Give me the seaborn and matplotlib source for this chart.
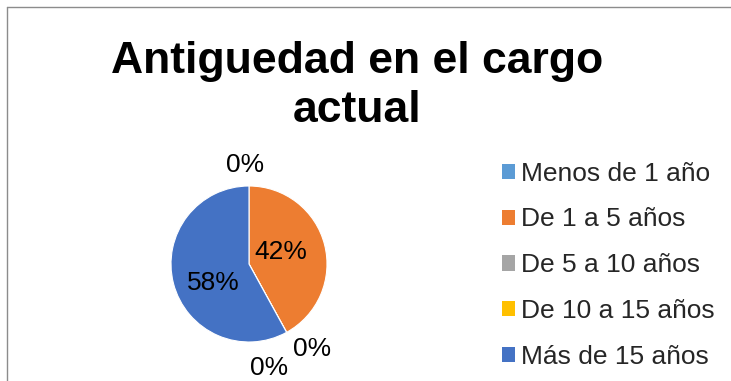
import numpy as np
import matplotlib
matplotlib.use("Agg")
import matplotlib.pyplot as plt
from matplotlib.patches import Patch
from matplotlib.lines import Line2D
import seaborn as sns

# Survey results: time in the current position
categories = ["Menos de 1 año", "De 1 a 5 años", "De 5 a 10 años",
              "De 10 a 15 años", "Más de 15 años"]
percentages = [0, 42, 0, 0, 58]
colors = ["#5B9BD5", "#ED7D31", "#A5A5A5", "#FFC000", "#4472C4"]
title_lines = ["Antiguedad en el cargo", "actual"]

sns.set_theme(style="white")
plt.rcParams["font.family"] = ["Liberation Sans", "DejaVu Sans"]
palette = sns.color_palette(colors)

W, H = 731, 381
fig = plt.figure(figsize=(W / 100, H / 100), dpi=100)
fig.patch.set_facecolor("white")

# chart-area border: top and left edges
x0, y0 = 6.5 / W, 1 - 6.5 / H
fig.add_artist(Line2D([x0, 1.05], [y0, y0], transform=fig.transFigure,
                      color="#8c8c8c", linewidth=1.0))
fig.add_artist(Line2D([x0, x0], [y0, -0.05], transform=fig.transFigure,
                      color="#8c8c8c", linewidth=1.0))

# two-line bold title, one baseline per line
for k, line in enumerate(title_lines):
    fig.text(357 / W, 1 - (73 + 49 * k) / H, line, ha="center",
             va="baseline", fontsize=32, fontweight="bold", color="black")

# pie area
cx, cy, r = 249, 264, 78
ax = fig.add_axes([(cx - r) / W, (H - cy - r) / H, 2 * r / W, 2 * r / H])
wedges, texts, autotexts = ax.pie(
    percentages, colors=palette, startangle=90, counterclock=False,
    autopct=lambda p: f"{p:.0f}%", pctdistance=0.47,
    wedgeprops=dict(linewidth=0.8, edgecolor="white"),
    textprops=dict(fontsize=19, color="black"))
ax.set_xlim(-1, 1)
ax.set_ylim(-1, 1)
ax.set_aspect("equal")
ax.axis("off")

# best-fit label placement: angular nudge (deg) and radial distance per slice
label_fit = {0: (2.0, 1.27), 1: (6.0, 0.44), 2: (8.0, 1.36),
             3: (-18.0, 1.36), 4: (13.0, 0.52)}
cum = np.cumsum([0] + percentages)
for i, t in enumerate(autotexts):
    shift, dist = label_fit[i]
    mid = 90 - 360 * (cum[i] + cum[i + 1]) / 200 + shift
    rad = np.deg2rad(mid)
    t.set_position((dist * np.cos(rad), dist * np.sin(rad)))
    t.set_clip_on(False)

handles = [Patch(facecolor=c, edgecolor="none") for c in palette]
fig.legend(handles, categories, loc="upper left",
           bbox_to_anchor=(491 / W, 1 - 151 / H), frameon=False,
           fontsize=19, handlelength=0.5, handleheight=0.5,
           handletextpad=0.25, labelspacing=0.83, borderaxespad=0)

fig.savefig("out.png", dpi=100)
